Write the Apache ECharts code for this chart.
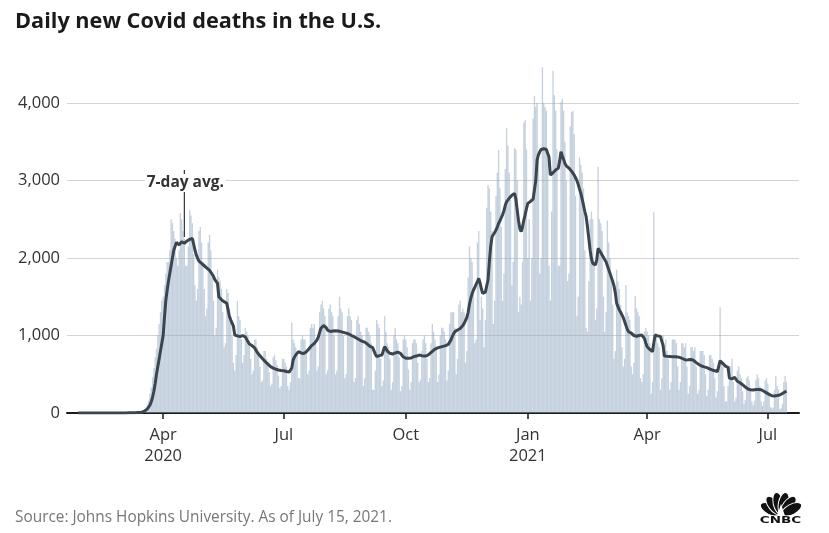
<!DOCTYPE html>
<html>
<head>
<meta charset="utf-8">
<script src="https://cdn.jsdelivr.net/npm/echarts@6/dist/echarts.min.js"></script>
<style>
html,body{margin:0;padding:0;background:#fff;}
#c{width:829px;height:533px;}
</style>
</head>
<body>
<div id="c"></div>
<script>
const titleText = 'Daily new Covid deaths in the U.S.';
const sourceText = 'Source: Johns Hopkins University. As of July 15, 2021.';
const dataStart = '2020-01-22';
const axisStart = '2020-01-20';
const axisEnd = '2021-07-24';
const tickDates = ['2020-04-01', '2020-07-01', '2020-10-01', '2021-01-01', '2021-04-01', '2021-07-01'];
const tickLabels = ['Apr\n2020', 'Jul', 'Oct', 'Jan\n2021', 'Apr', 'Jul'];
const yMax = 5000;
const yStep = 1000;
const annotation = { text: '7-day avg.', date: '2020-04-17', top: 3135, bottom: 2270, labelValue: 2968 };

// Daily new deaths, one row per week (Sun..Sat), first row starts Wed Jan 22 2020
const dailyDeaths = [
  0,0,0,0,
  0,0,0,0,0,0,0,
  0,0,0,0,0,0,0,
  0,0,0,0,0,0,0,
  0,0,0,0,0,0,0,
  0,0,0,0,0,0,1,
  1,1,4,2,3,2,3,
  3,5,6,8,9,10,10,
  10,18,28,45,70,110,160,
  250,330,460,580,720,830,1000,
  1150,1300,1450,1500,1650,1800,1950,
  1950,2100,2500,2450,2350,2250,2000,
  1900,2100,2580,2500,2350,2250,1900,
  1900,2150,2620,2550,2450,2050,1650,
  1450,1600,2350,2400,2200,1950,1600,
  1250,1350,2200,2300,2100,1750,1450,
  1000,1100,1850,1750,1700,1600,1300,
  850,900,1600,1550,1350,1250,1000,
  650,550,750,1450,1250,1200,950,
  650,750,1100,1050,1000,900,700,
  500,550,950,950,850,800,600,
  400,420,800,800,700,650,530,
  350,380,720,750,680,620,480,
  320,350,700,700,650,600,350,
  300,400,1165,950,900,850,750,
  450,450,950,1000,950,950,800,
  500,550,1100,1150,1100,1150,900,
  550,600,1300,1400,1450,1350,1250,
  500,550,1350,1400,1300,1250,1000,
  500,550,1250,1500,1350,1300,1000,
  450,500,1250,1350,1250,1200,1000,
  400,450,1200,1250,1150,1050,1000,
  350,450,1100,1100,1050,1000,900,
  300,300,550,1200,1150,1100,700,
  350,420,1250,1050,900,850,700,
  300,400,1000,1100,950,900,720,
  280,350,950,1000,950,850,560,
  300,400,900,950,950,900,650,
  400,430,800,950,1000,900,700,
  400,450,900,1150,1050,950,850,
  400,500,1000,1100,1100,1050,950,
  420,550,1150,1300,1300,1300,1100,
  500,700,1400,1450,1300,1350,1300,
  650,800,1750,2150,2000,1950,1550,
  900,950,2200,2350,1200,1500,1350,
  850,1200,2650,2940,2900,2600,2350,
  1150,1450,2800,3100,3394,2900,2400,
  1450,1800,3150,3673,3450,3100,2750,
  1650,1950,3415,3400,3000,1300,1500,
  1400,1950,3750,3780,3400,2000,2500,
  1450,2000,3800,4095,3950,4000,3300,
  1800,2000,4460,4000,3950,3900,3350,
  1900,1450,2600,4417,4100,3900,3400,
  1900,1900,4017,4050,3900,3500,3000,
  1700,1800,3700,3880,3900,3600,2800,
  1250,1500,3299,3200,3100,2900,2100,
  1100,1050,1700,2500,2600,2500,1900,
  1200,1350,3178,2500,2450,2350,1500,
  1050,1300,2481,2200,2000,1800,1400,
  700,800,1850,1700,1600,1400,850,
  600,700,1652,1300,1250,1200,600,
  500,650,1510,1350,1300,1250,450,
  400,500,1050,1100,1050,1000,900,
  250,400,2590,900,1000,900,850,
  300,450,1000,900,950,800,700,
  300,400,950,950,950,900,600,
  300,400,900,900,850,900,600,
  250,350,850,850,800,850,600,
  250,300,800,800,800,750,500,
  220,300,750,750,700,650,450,
  200,280,650,1364,650,600,350,
  150,150,350,600,600,700,400,
  150,200,550,600,500,450,280,
  120,170,450,480,420,300,150,
  100,160,430,500,450,350,150,
  90,150,420,450,380,250,80,
  60,70,300,480,350,300,50,
  60,120,400,480,400
];

// 7-day average, same day layout
const sevenDayAvg = [
  null,null,null,null,
  null,null,0,0,0,0,0,
  0,0,0,0,0,0,0,
  0,0,0,0,0,0,0,
  0,0,0,0,0,0,0,
  0,0,0,0,0,0,0.1,
  0.3,0.4,0.9,1.1,1.6,1.9,2.3,
  2.6,3.3,3.6,4.4,5.3,6.4,7.4,
  8,11,16,25,35,50,70,
  100,145,200,280,380,500,600,
  700,800,900,1000,1230,1450,1580,
  1700,1800,1900,2000,2100,2150,2200,
  2190,2170,2190,2210,2200,2190,2200,
  2220,2230,2240,2250,2254,2180,2100,
  2040,1996,1960,1940,1930,1920,1900,
  1888,1870,1850,1840,1823,1790,1760,
  1720,1700,1673,1500,1480,1460,1445,
  1437,1425,1415,1330,1243,1200,1160,
  1120,1006,1000,995,990,985,990,
  1000,1006,980,950,920,890,880,
  870,855,840,810,780,760,740,
  720,700,680,662,645,630,615,
  598,590,580,570,565,560,555,
  550,548,546,545,540,535,530,
  528,525,580,684,720,750,770,
  791,785,775,770,768,770,791,
  810,830,850,870,885,899,920,
  942,980,1040,1093,1110,1130,1140,
  1100,1070,1049,1052,1055,1058,1060,
  1060,1060,1058,1055,1050,1045,1040,
  1035,1030,1028,1020,1010,1000,992,
  985,975,964,955,945,935,925,
  920,915,905,890,875,860,850,
  845,834,760,727,735,740,745,
  748,748,856,830,800,780,770,
  765,761,768,775,780,785,785,
  770,745,725,712,706,706,706,
  706,710,715,727,730,735,740,
  748,745,740,738,737,735,740,
  750,765,780,795,810,825,834,
  840,845,850,855,860,865,870,
  877,885,900,940,985,1020,1050,
  1071,1071,1071,1090,1110,1130,1157,
  1178,1230,1300,1400,1480,1540,1587,
  1620,1660,1694,1738,1680,1600,1544,
  1540,1560,1640,1716,1950,2150,2275,
  2300,2330,2360,2400,2447,2480,2520,
  2560,2610,2680,2727,2750,2770,2790,
  2810,2825,2834,2760,2619,2480,2380,
  2340,2400,2490,2560,2640,2705,2720,
  2730,2745,2760,2770,3000,3265,3330,
  3370,3400,3415,3410,3405,3400,3402,
  3300,3071,3080,3100,3120,3135,3144,
  3160,3250,3372,3320,3270,3220,3190,
  3178,3160,3140,3120,3100,3070,3049,
  3000,2950,2890,2834,2760,2680,2600,
  2533,2400,2250,2100,1990,1931,1920,
  1910,1980,2125,2100,2070,2040,2010,
  1985,1950,1900,1850,1800,1750,1700,
  1640,1550,1415,1372,1330,1300,1265,
  1230,1180,1130,1080,1049,1040,1030,
  1020,1000,985,990,995,1000,1003,
  1006,1000,960,900,856,840,820,
  800,791,900,1006,1000,995,990,
  988,985,870,735,733,731,730,
  729,728,727,727,727,726,724,
  720,715,710,700,690,684,684,
  686,688,690,692,680,665,650,
  640,625,615,606,600,595,590,
  585,578,570,562,555,548,545,
  540,535,533,675,660,640,620,
  605,598,590,450,426,440,450,
  460,440,410,395,391,380,365,
  350,335,320,310,305,300,297,
  298,300,302,303,304,305,300,
  290,280,270,260,250,240,230,
  222,219,220,222,225,228,232,
  240,252,262,272,284
];

function addDays(iso, n) {
  const d = new Date(iso + 'T00:00:00Z');
  d.setUTCDate(d.getUTCDate() + n);
  return d.toISOString().slice(0, 10);
}
const categories = [];
for (let d = axisStart; d <= axisEnd; d = addDays(d, 1)) categories.push(d);
const offset = categories.indexOf(dataStart);
const alignTo = (arr) => categories.map((c, i) => {
  const k = i - offset;
  return (k >= 0 && k < arr.length) ? arr[k] : null;
});
const barData = alignTo(dailyDeaths);
const lineData = alignTo(sevenDayAvg);

const FONT = '"Open Sans", Lato, sans-serif';
const isTick = (i, v) => tickDates.indexOf(v) >= 0;

const chart = echarts.init(document.getElementById('c'), null, { renderer: 'canvas' });
const option = {
  backgroundColor: '#ffffff',
  animation: false,
  textStyle: { fontFamily: FONT },
  title: [
    {
      text: titleText, left: 10, top: 6, padding: 5,
      textStyle: { fontFamily: FONT, fontSize: 21.7, fontWeight: 'bold', color: '#1a1a1a' }
    },
    {
      text: sourceText, left: 10, top: 505, padding: 5,
      textStyle: { fontFamily: FONT, fontSize: 15.4, fontWeight: 'normal', color: '#777777' }
    }
  ],
  grid: { left: 67, right: 30, top: 25.5, bottom: 120, outerBoundsMode: 'none', containLabel: false },
  xAxis: {
    type: 'category',
    data: categories,
    boundaryGap: true,
    axisLine: { show: true, lineStyle: { color: '#1a1a1a', width: 2 } },
    axisTick: { show: true, interval: isTick, alignWithLabel: true, length: 6, lineStyle: { color: '#1a1a1a', width: 1.5 } },
    axisLabel: {
      interval: isTick,
      formatter: (v) => { const k = tickDates.indexOf(v); return k >= 0 ? tickLabels[k] : ''; },
      color: '#333', fontSize: 16.5, fontFamily: FONT, lineHeight: 21, margin: 12
    },
    splitLine: { show: false }
  },
  yAxis: {
    type: 'value', min: 0, max: yMax, interval: yStep,
    axisLine: { show: false },
    axisTick: { show: false },
    axisLabel: {
      showMaxLabel: false,
      formatter: (v) => v.toLocaleString('en-US'),
      color: '#333', fontSize: 16.5, fontFamily: FONT, margin: 7
    },
    splitLine: { show: true, showMaxLine: false, lineStyle: { color: '#d3d3d3', width: 1 } }
  },
  series: [
    {
      name: 'Daily deaths', type: 'bar', data: barData,
      barCategoryGap: '0%', barGap: '0%',
      itemStyle: { color: 'rgba(150,172,194,0.55)' },
      silent: true, z: 2
    },
    {
      name: '7-day avg.', type: 'line', data: lineData,
      showSymbol: false, symbol: 'none', smooth: false,
      lineStyle: { color: '#3b4550', width: 3 },
      silent: true, z: 4
    }
  ]
};
chart.setOption(option);

const pTop = chart.convertToPixel({ gridIndex: 0 }, [annotation.date, annotation.top]);
const pBot = chart.convertToPixel({ gridIndex: 0 }, [annotation.date, annotation.bottom]);
const pLab = chart.convertToPixel({ gridIndex: 0 }, [annotation.date, annotation.labelValue]);

// CNBC peacock logo
const featherAngles = [-62.5, -37.5, -12.5, 12.5, 37.5, 62.5];
const logoBase = [781, 515];
const feathers = featherAngles.map(a => ({
  type: 'ellipse',
  x: logoBase[0], y: logoBase[1],
  rotation: -a * Math.PI / 180,
  shape: { cx: 0, cy: -12, rx: 5.2, ry: 11 },
  style: { fill: '#111', stroke: '#fff', lineWidth: 1 },
  z: 50
}));

chart.setOption({
  graphic: [
    {
      type: 'line', z: 90,
      shape: { x1: pTop[0], y1: pTop[1], x2: pBot[0], y2: pBot[1] },
      style: { stroke: '#333', lineWidth: 1.2 }
    },
    {
      type: 'text', z: 95,
      x: pLab[0] + 1, y: pLab[1],
      style: {
        text: annotation.text, font: 'bold 15.5px ' + FONT, fill: '#333',
        align: 'center', verticalAlign: 'middle',
        backgroundColor: '#fff', padding: [1, 2]
      }
    },
    ...feathers,
    {
      type: 'polygon', z: 51,
      shape: { points: [[777, 516], [785, 516], [781, 504]] },
      style: { fill: '#fff' }
    },
    {
      type: 'rect', z: 51,
      shape: { x: 755, y: 515.5, width: 52, height: 10 },
      style: { fill: '#fff' }
    },
    {
      type: 'text', z: 52, x: 780.5, y: 521, scaleX: 1.5,
      style: { text: 'CNBC', font: 'bold 9px "DejaVu Sans", sans-serif', fill: '#111', align: 'center', verticalAlign: 'middle' }
    }
  ]
});
</script>
</body>
</html>
